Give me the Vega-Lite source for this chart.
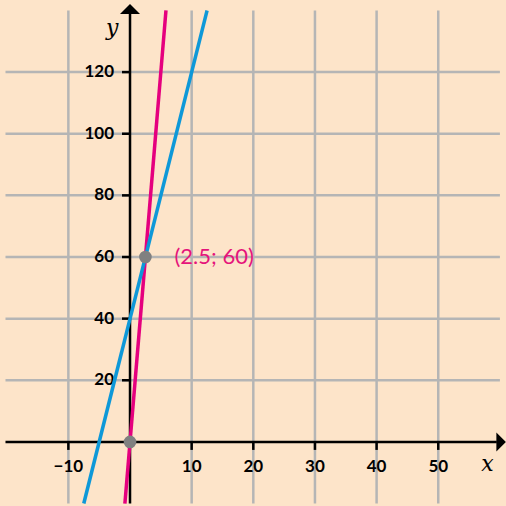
{
  "$schema": "https://vega.github.io/schema/vega-lite/v6.json",
  "width": 506,
  "height": 506,
  "padding": 0,
  "autosize": {"type": "none"},
  "background": "#FDE4C9",
  "config": {"view": {"stroke": null}},
  "datasets": {
    "vgrid": [{"x": -10}, {"x": 10}, {"x": 20}, {"x": 30}, {"x": 40}, {"x": 50}],
    "hgrid": [{"y": 20}, {"y": 40}, {"y": 60}, {"y": 80}, {"y": 100}, {"y": 120}],
    "xticks": [
      {"x": -10, "label": "−10"}, {"x": 10, "label": "10"}, {"x": 20, "label": "20"},
      {"x": 30, "label": "30"}, {"x": 40, "label": "40"}, {"x": 50, "label": "50"}
    ],
    "yticks": [
      {"y": 20, "label": "20"}, {"y": 40, "label": "40"}, {"y": 60, "label": "60"},
      {"y": 80, "label": "80"}, {"y": 100, "label": "100"}, {"y": 120, "label": "120"}
    ],
    "lines": [
      {"series": "red", "x": -0.833, "y": -20},
      {"series": "red", "x": 5.833, "y": 140},
      {"series": "blue", "x": -7.5, "y": -20},
      {"series": "blue", "x": 12.5, "y": 140}
    ],
    "points": [{"x": 0, "y": 0}, {"x": 2.5, "y": 60}],
    "annot": [{"x": 2.5, "y": 60, "label": "(2.5; 60)"}]
  },
  "encoding": {
    "x": {"type": "quantitative", "scale": {"domain": [-21.09, 60.99], "nice": false, "zero": false}, "axis": null},
    "y": {"type": "quantitative", "scale": {"domain": [-20.8, 143.4], "nice": false, "zero": false}, "axis": null}
  },
  "layer": [
    {
      "data": {"name": "vgrid"},
      "mark": {"type": "rule", "color": "#B5B5B5", "strokeWidth": 2.5},
      "encoding": {"x": {"field": "x", "type": "quantitative"}, "y": {"datum": -20}, "y2": {"datum": 140}}
    },
    {
      "data": {"name": "hgrid"},
      "mark": {"type": "rule", "color": "#B5B5B5", "strokeWidth": 2.5},
      "encoding": {"y": {"field": "y", "type": "quantitative"}, "x": {"datum": -20.2}, "x2": {"datum": 60}}
    },
    {
      "data": {"values": [{}]},
      "mark": {"type": "rule", "color": "#000000", "strokeWidth": 2.5},
      "encoding": {"x": {"datum": 0}, "y": {"datum": -20}, "y2": {"datum": 139}}
    },
    {
      "data": {"values": [{}]},
      "mark": {"type": "rule", "color": "#000000", "strokeWidth": 2.5},
      "encoding": {"y": {"datum": 0}, "x": {"datum": -20.2}, "x2": {"datum": 59.5}}
    },
    {
      "data": {"values": [{}]},
      "mark": {"type": "point", "shape": "M-1,0.5L0,-0.5L1,0.5Z", "size": 400, "filled": true, "color": "#000000", "opacity": 1},
      "encoding": {"x": {"datum": 0}, "y": {"datum": 140.5}}
    },
    {
      "data": {"values": [{}]},
      "mark": {"type": "point", "shape": "M-0.5,-1L0.5,0L-0.5,1Z", "size": 361, "filled": true, "color": "#000000", "opacity": 1},
      "encoding": {"x": {"datum": 60.2}, "y": {"datum": 0}}
    },
    {
      "data": {"name": "xticks"},
      "mark": {"type": "rule", "color": "#000000", "strokeWidth": 2.5},
      "encoding": {"x": {"field": "x", "type": "quantitative"}, "y": {"datum": 0}, "y2": {"datum": -2.6}}
    },
    {
      "data": {"name": "yticks"},
      "mark": {"type": "rule", "color": "#000000", "strokeWidth": 2.5},
      "encoding": {"y": {"field": "y", "type": "quantitative"}, "x": {"datum": 0}, "x2": {"datum": -1.3}}
    },
    {
      "data": {"name": "xticks"},
      "mark": {"type": "text", "font": "Lato", "fontWeight": "bold", "fontSize": 17, "color": "#000000", "align": "center", "baseline": "middle", "dy": 25},
      "encoding": {"x": {"field": "x", "type": "quantitative"}, "y": {"datum": 0}, "text": {"field": "label"}}
    },
    {
      "data": {"name": "yticks"},
      "mark": {"type": "text", "font": "Lato", "fontWeight": "bold", "fontSize": 17, "color": "#000000", "align": "right", "baseline": "middle", "dx": -16},
      "encoding": {"y": {"field": "y", "type": "quantitative"}, "x": {"datum": 0}, "text": {"field": "label"}}
    },
    {
      "data": {"name": "lines"},
      "mark": {"type": "line", "strokeWidth": 3.5, "strokeCap": "butt"},
      "encoding": {
        "x": {"field": "x", "type": "quantitative"},
        "y": {"field": "y", "type": "quantitative"},
        "detail": {"field": "series"},
        "color": {"field": "series", "type": "nominal", "scale": {"domain": ["red", "blue"], "range": ["#E5007E", "#0E98D8"]}, "legend": null}
      }
    },
    {
      "data": {"name": "points"},
      "mark": {"type": "circle", "size": 160, "color": "#808080", "opacity": 1},
      "encoding": {"x": {"field": "x", "type": "quantitative"}, "y": {"field": "y", "type": "quantitative"}}
    },
    {
      "data": {"name": "annot"},
      "mark": {"type": "text", "font": "Lato", "fontSize": 22, "color": "#E5147B", "align": "left", "baseline": "middle", "dx": 29},
      "encoding": {"x": {"field": "x", "type": "quantitative"}, "y": {"field": "y", "type": "quantitative"}, "text": {"field": "label"}}
    },
    {
      "data": {"values": [{"t": "x"}]},
      "mark": {"type": "text", "font": "DejaVu Serif", "fontStyle": "italic", "fontSize": 22, "color": "#000000", "align": "center", "baseline": "middle", "dy": 22},
      "encoding": {"x": {"datum": 58}, "y": {"datum": 0}, "text": {"field": "t"}}
    },
    {
      "data": {"values": [{"t": "y"}]},
      "mark": {"type": "text", "font": "DejaVu Serif", "fontStyle": "italic", "fontSize": 22, "color": "#000000", "align": "center", "baseline": "middle"},
      "encoding": {"x": {"datum": -2.9}, "y": {"datum": 134.3}, "text": {"field": "t"}}
    }
  ]
}
